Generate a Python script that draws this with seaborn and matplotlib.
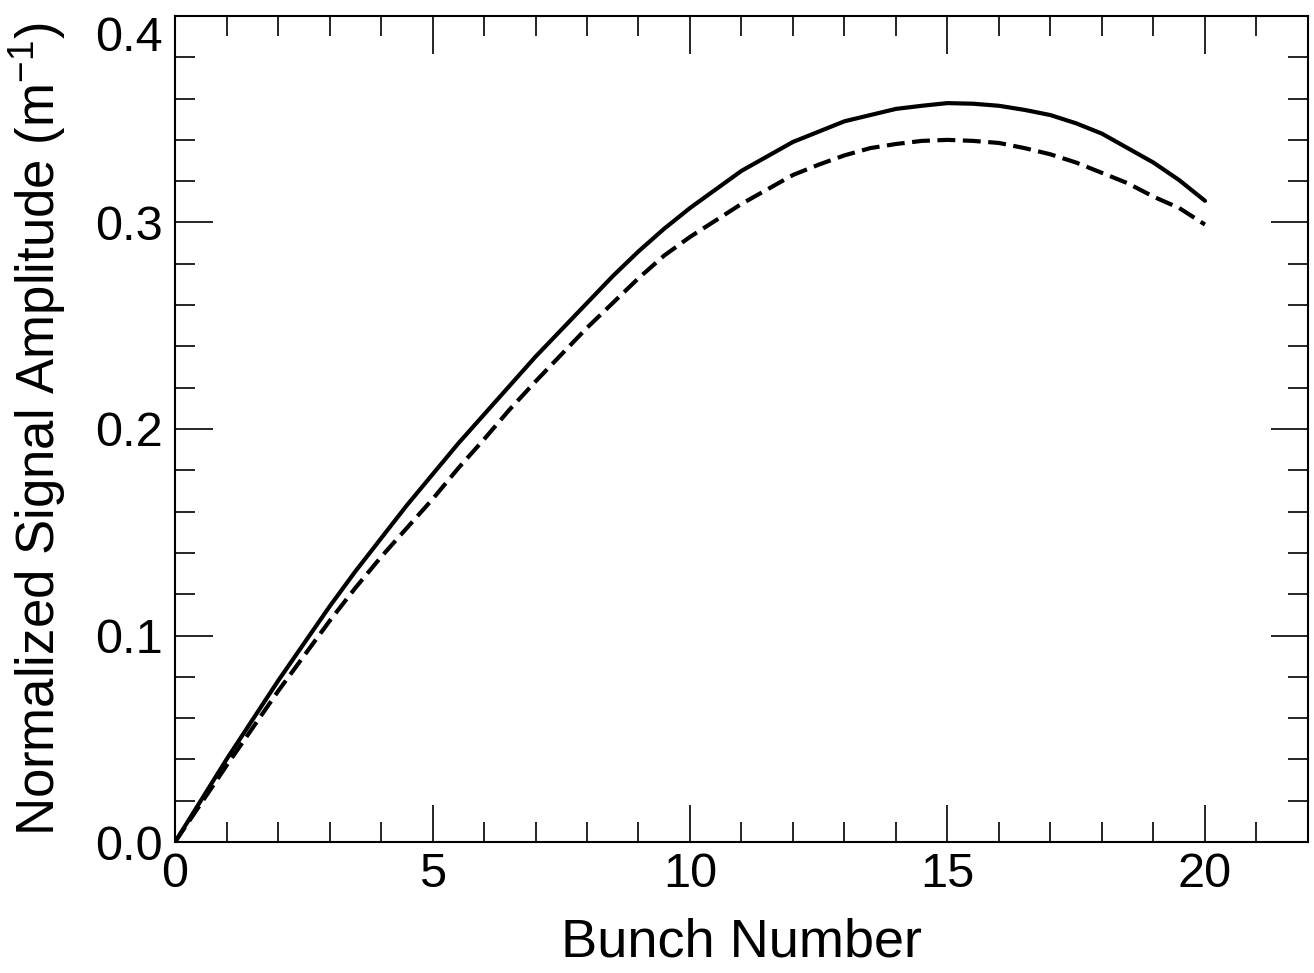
import numpy as np
import pandas as pd
import matplotlib
matplotlib.use("Agg")
import matplotlib.pyplot as plt
from matplotlib.ticker import MultipleLocator, FormatStrFormatter
import seaborn as sns

bunch = [0, 0.5, 1, 1.5, 2, 2.5, 3, 3.5, 4, 4.5, 5, 5.5, 6, 6.5, 7, 7.5, 8, 8.5, 9, 9.5,
         10, 10.5, 11, 11.5, 12, 12.5, 13, 13.5, 14, 14.5, 15, 15.5, 16, 16.5, 17, 17.5,
         18, 18.5, 19, 19.5, 20]
solid_amp = [0.000, 0.020, 0.040, 0.059, 0.078, 0.096, 0.114, 0.131, 0.147, 0.163,
             0.178, 0.193, 0.207, 0.221, 0.235, 0.248, 0.261, 0.274, 0.286, 0.297,
             0.307, 0.316, 0.325, 0.332, 0.339, 0.344, 0.349, 0.352, 0.355, 0.3565,
             0.3578, 0.3575, 0.3565, 0.3545, 0.352, 0.348, 0.343, 0.336, 0.329, 0.3205,
             0.3105]
dashed_amp = [0.000, 0.0185, 0.037, 0.055, 0.073, 0.090, 0.107, 0.123, 0.138, 0.152,
              0.166, 0.181, 0.195, 0.2095, 0.223, 0.236, 0.249, 0.261, 0.273, 0.284,
              0.293, 0.301, 0.309, 0.316, 0.323, 0.328, 0.3325, 0.336, 0.338, 0.3395,
              0.340, 0.3395, 0.3385, 0.336, 0.333, 0.329, 0.324, 0.319, 0.3125, 0.307,
              0.299]
series_names = ["solid", "dashed"]

x_label = "Bunch Number"
y_label = "Normalized Signal Amplitude (m$^{\\mathregular{-1}}$)"

df = pd.DataFrame({
    "bunch": bunch * 2,
    "amp": solid_amp + dashed_amp,
    "series": [series_names[0]] * len(bunch) + [series_names[1]] * len(bunch),
})

sns.set_theme(style="ticks")
plt.rcParams["font.family"] = ["Liberation Sans", "DejaVu Sans"]
plt.rcParams["mathtext.fontset"] = "custom"
plt.rcParams["mathtext.rm"] = "Liberation Sans"
plt.rcParams["mathtext.it"] = "Liberation Sans:italic"
plt.rcParams["mathtext.bf"] = "Liberation Sans:bold"

fig = plt.figure(figsize=(13.14, 9.73), dpi=100)
ax = fig.add_axes([0.1332, 0.1346, 0.8622, 0.849])

sns.lineplot(data=df, x="bunch", y="amp", style="series",
             dashes={"solid": "", "dashed": (4.3, 1.8)},
             color="black", linewidth=3.0, legend=False, ax=ax, sort=False)

ax.set_xlim(0, 22)
ax.set_ylim(0, 0.4)
ax.xaxis.set_major_locator(MultipleLocator(5))
ax.xaxis.set_minor_locator(MultipleLocator(1))
ax.yaxis.set_major_locator(MultipleLocator(0.1))
ax.yaxis.set_minor_locator(MultipleLocator(0.02))
ax.yaxis.set_major_formatter(FormatStrFormatter("%.1f"))
ax.xaxis.set_major_formatter(FormatStrFormatter("%d"))

ax.tick_params(which="both", direction="in", top=True, right=True,
               color="black", width=1.2)
ax.tick_params(which="major", length=27, labelsize=35, pad=9, labelcolor="black")
ax.tick_params(axis="x", which="major", pad=7)
ax.tick_params(which="minor", length=14.5)
for s in ax.spines.values():
    s.set_linewidth(1.5)
    s.set_color("black")

ax.set_xlabel(x_label, fontsize=39, labelpad=15, color="black")
ax.set_ylabel(y_label, fontsize=38, labelpad=19, color="black")
ax.set_facecolor("white")
fig.patch.set_facecolor("white")

# the top y tick label sits just below the top edge in the original
fig.canvas.draw()
for tick in ax.yaxis.get_major_ticks():
    if abs(tick.get_loc() - 0.4) < 1e-9:
        tick.label1.set_verticalalignment("top")

fig.savefig("out.png", dpi=100)
